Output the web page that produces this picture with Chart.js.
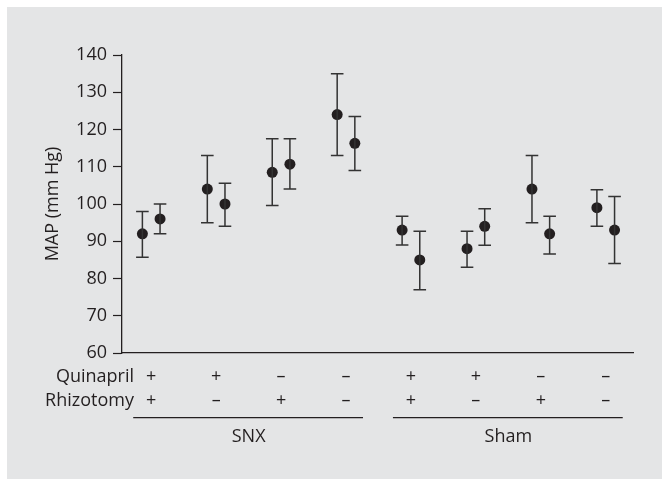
<!DOCTYPE html>
<html>
<head>
<meta charset="utf-8">
<script src="https://cdn.jsdelivr.net/npm/chart.js@4.4.1/dist/chart.umd.min.js"></script>
<style>
  html, body { margin: 0; padding: 0; background: #ffffff; }
  #wrap { position: absolute; left: 7px; top: 7px; width: 655px; height: 472px; background: #e4e5e6; }
  canvas { display: block; }
</style>
</head>
<body>
<div id="wrap"><canvas id="c" width="655" height="472"></canvas></div>
<script>
// ---- data ----
const groups = ["SNX", "SNX", "SNX", "SNX", "Sham", "Sham", "Sham", "Sham"];
const quinapril = ["+", "+", "–", "–", "+", "+", "–", "–"];
const rhizotomy = ["+", "–", "+", "–", "+", "–", "+", "–"];
const groupNames = ["SNX", "Sham"];

const leftMean  = [92, 104, 108.5, 124, 93, 88, 104, 99];
const leftUpper = [98, 113, 117.5, 135, 96.7, 92.7, 113, 103.8];
const leftLower = [85.7, 95, 99.6, 113, 89, 83, 95, 94];

const rightMean  = [96, 100, 110.7, 116.3, 85, 94, 92, 93];
const rightUpper = [100, 105.6, 117.5, 123.5, 92.7, 98.7, 96.7, 102];
const rightLower = [92, 94, 104, 109, 77, 88.9, 86.6, 84];

const yTicks = [60, 70, 80, 90, 100, 110, 120, 130, 140];

// ---- styling ----
const INK = '#231f20';
const FONT = '"Open Sans", "Noto Sans", sans-serif';
const PAIR_OFFSET = 0.136;

function pts(means, off) {
  return means.map((v, i) => ({ x: i + off, y: v }));
}

const errorBars = {
  id: 'errorBars',
  afterDatasetsDraw(chart) {
    const { ctx, scales: { x, y } } = chart;
    const sets = [
      { off: -PAIR_OFFSET, lo: leftLower, hi: leftUpper },
      { off: PAIR_OFFSET, lo: rightLower, hi: rightUpper }
    ];
    ctx.save();
    ctx.strokeStyle = '#333333';
    ctx.lineWidth = 1.5;
    const cap = 6.3;
    sets.forEach(s => {
      s.lo.forEach((lo, i) => {
        const px = x.getPixelForValue(i + s.off);
        const yl = y.getPixelForValue(lo);
        const yh = y.getPixelForValue(s.hi[i]);
        ctx.beginPath();
        ctx.moveTo(px, yl); ctx.lineTo(px, yh);
        ctx.moveTo(px - cap, yl); ctx.lineTo(px + cap, yl);
        ctx.moveTo(px - cap, yh); ctx.lineTo(px + cap, yh);
        ctx.stroke();
      });
    });
    ctx.restore();
  }
};

const categoryLabels = {
  id: 'categoryLabels',
  afterDraw(chart) {
    const { ctx, scales: { x } } = chart;
    ctx.save();
    ctx.fillStyle = INK;
    ctx.font = '18px ' + FONT;
    ctx.textBaseline = 'middle';
    const rowQ = 369.5, rowR = 394, lineY = 410.7, nameY = 430;
    ctx.textAlign = 'right';
    ctx.fillText('Quinapril', 127, rowQ);
    ctx.fillText('Rhizotomy', 127, rowR);
    ctx.textAlign = 'center';
    quinapril.forEach((s, i) => {
      const px = x.getPixelForValue(i);
      ctx.fillText(s, px, rowQ);
      ctx.fillText(rhizotomy[i], px, rowR);
    });
    ctx.strokeStyle = INK;
    ctx.lineWidth = 1.2;
    groupNames.forEach(name => {
      const idx = groups.map((g, i) => g === name ? i : -1).filter(i => i >= 0);
      const first = idx[0], last = idx[idx.length - 1];
      const x0 = x.getPixelForValue(first) - 18;
      const x1 = x.getPixelForValue(last) + 17;
      ctx.beginPath();
      ctx.moveTo(x0, lineY); ctx.lineTo(x1, lineY);
      ctx.stroke();
      ctx.fillText(name, (x.getPixelForValue(first) + x.getPixelForValue(last)) / 2, nameY);
    });
    ctx.restore();
  }
};

new Chart(document.getElementById('c'), {
  type: 'scatter',
  data: {
    datasets: [
      { label: 'left', data: pts(leftMean, -PAIR_OFFSET), backgroundColor: INK, borderWidth: 0, pointRadius: 5.5, pointHoverRadius: 5.5 },
      { label: 'right', data: pts(rightMean, PAIR_OFFSET), backgroundColor: INK, borderWidth: 0, pointRadius: 5.5, pointHoverRadius: 5.5 }
    ]
  },
  options: {
    responsive: false,
    animation: false,
    events: [],
    layout: { padding: { left: 0, right: 29, top: 48, bottom: 0 } },
    plugins: { legend: { display: false }, tooltip: { enabled: false } },
    scales: {
      x: {
        type: 'linear',
        min: -0.45,
        max: 7.42,
        ticks: { display: false },
        grid: { display: false },
        border: { display: true, color: INK, width: 1.3 },
        afterFit(s) { s.height = 126; }
      },
      y: {
        min: 60,
        max: 140,
        afterBuildTicks(s) { s.ticks = yTicks.map(v => ({ value: v })); },
        ticks: { color: INK, font: { family: FONT, size: 18 }, padding: 6 },
        grid: { drawOnChartArea: false, drawTicks: true, tickLength: 9, tickColor: INK, tickWidth: 1.2 },
        border: { display: true, color: INK, width: 1.3 },
        title: { display: true, text: 'MAP (mm Hg)', color: INK, font: { family: FONT, size: 18 }, padding: { top: 35, bottom: 0 } },
        afterFit(s) { s.width = 115; }
      }
    }
  },
  plugins: [errorBars, categoryLabels]
});
</script>
</body>
</html>
